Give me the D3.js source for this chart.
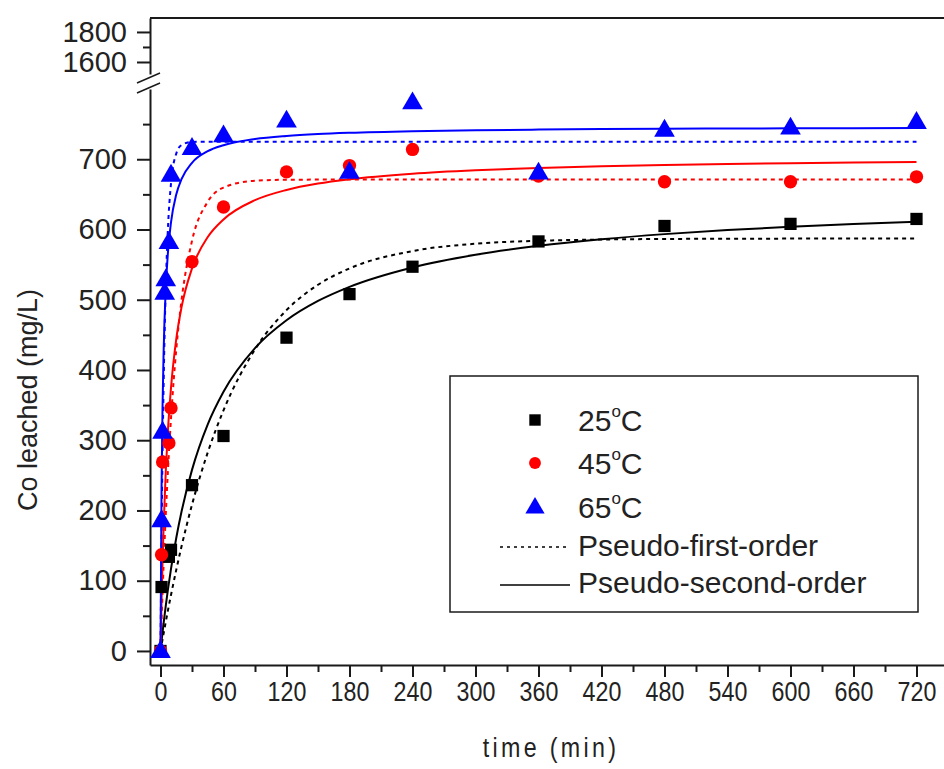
<!DOCTYPE html>
<html>
<head>
<meta charset="utf-8">
<script src="https://cdn.jsdelivr.net/npm/d3@7"></script>
<style>
  html, body { margin: 0; padding: 0; background: #fff; }
  svg { display: block; font-family: "Liberation Sans", Arial, sans-serif; }
</style>
</head>
<body>
<svg id="chart" width="944" height="769"></svg>
<script>
// ---- data ----
const t25  = [0, 1, 8, 10, 30, 60, 120, 180, 240, 360, 480, 600, 720];
const co25 = [0, 91, 134, 144, 236, 306, 446, 508, 547, 583, 605, 608, 615];
const t45  = [0, 1, 2, 8, 10, 30, 60, 120, 180, 240, 360, 480, 600, 720];
const co45 = [0, 137, 269, 296, 346, 554, 632, 682, 691, 714, 676, 668, 668, 675];
const t65  = [0, 1, 2, 4, 5, 8, 10, 30, 60, 120, 180, 240, 360, 480, 600, 720];
const co65 = [0, 186, 312, 510, 529, 582, 678, 716, 734, 755, 682, 781, 681, 742, 745, 753];

const tFit = [0, 1, 2, 3, 5, 7, 10, 15, 20, 30, 45, 60, 90, 120, 150, 180, 240, 300, 360, 420, 480, 540, 600, 660, 720];
const pfo25 = [0, 8.5, 16.9, 25.1, 41.3, 57.0, 79.7, 115.4, 148.6, 208.2, 282.6, 342.5, 429.2, 485.2, 521.3, 544.6, 569.3, 579.7, 583.9, 585.7, 586.5, 586.8, 587, 587, 587];
const pso25 = [0, 13.9, 27.3, 40.1, 64.2, 86.5, 116.8, 160.8, 198.1, 257.8, 322.7, 369.1, 431.2, 470.8, 498.3, 518.4, 546.0, 564.0, 576.7, 586.1, 593.4, 599.2, 603.9, 607.8, 611.1];
const pfo45 = [0, 44.1, 85.3, 123.8, 193.4, 254.3, 331.1, 429.1, 498.8, 583.8, 639.5, 659.7, 669.5, 670.8, 671, 671, 671, 671, 671, 671, 671, 671, 671, 671, 671];
const pso45 = [0, 71.8, 130.4, 179.0, 255.1, 312.0, 374.6, 443.9, 489.1, 544.6, 589.2, 614.3, 641.7, 656.3, 665.4, 671.6, 679.5, 684.4, 687.7, 690.0, 691.8, 693.2, 694.3, 695.2, 696.0];
const pfo65 = [0, 160.4, 285.3, 382.5, 517.3, 599.0, 665.5, 708.0, 720.1, 724.6, 725, 725, 725, 725, 725, 725, 725, 725, 725, 725, 725, 725, 725, 725, 725];
const pso65 = [0, 230.5, 352.2, 427.5, 515.7, 565.7, 610.1, 649.8, 671.6, 694.9, 711.4, 719.9, 728.7, 733.1, 735.8, 737.6, 739.9, 741.3, 742.2, 742.9, 743.4, 743.7, 744.0, 744.3, 744.5];

const xTicks = [0, 60, 120, 180, 240, 300, 360, 420, 480, 540, 600, 660, 720];
const xMinor = [30, 90, 150, 210, 270, 330, 390, 450, 510, 570, 630, 690];
const yTicksLow = [0, 100, 200, 300, 400, 500, 600, 700];
const yMinorLow = [50, 150, 250, 350, 450, 550, 650, 750];
const yTicksHigh = [1600, 1800];
const yMinorHigh = [1700];

const seriesNames = ["25°C", "45°C", "65°C"];
const colors = ["#000000", "#ff0000", "#0000ff"];

// ---- scales ----
const svg = d3.select("#chart");
const x = d3.scaleLinear().domain([-10, 750]).range([150, 948]);
const yLow = d3.scaleLinear().domain([-20, 800]).range([665, 89]);
const yHigh = d3.scaleLinear().domain([1520, 1893]).range([74, 18]);

const axisColor = "#1a1a1a";
const textColor = "#222";
const fmt = d3.format("d");

// ---- axes ----
function styleAxis(g) {
  g.selectAll("path.domain").attr("stroke", axisColor).attr("stroke-width", 2);
  g.selectAll(".tick line").attr("stroke", axisColor).attr("stroke-width", 2);
  g.selectAll("text").attr("fill", textColor);
}

// x axis
const gx = svg.append("g").attr("transform", "translate(0,665)")
  .call(d3.axisBottom(x).tickValues(xTicks).tickFormat(fmt).tickSize(12).tickPadding(4).tickSizeOuter(0));
gx.call(styleAxis);
gx.selectAll("text").attr("font-size", 28).attr("transform", "scale(0.83,1)");
svg.append("g").attr("transform", "translate(0,665)")
  .call(d3.axisBottom(x).tickValues(xMinor).tickSize(7).tickFormat("").tickSizeOuter(0))
  .call(styleAxis).select("path.domain").remove();

// y axis low
const gyl = svg.append("g").attr("transform", "translate(150,0)")
  .call(d3.axisLeft(yLow).tickValues(yTicksLow).tickFormat(fmt).tickSize(13).tickPadding(10).tickSizeOuter(0));
gyl.call(styleAxis);
gyl.selectAll("text").attr("font-size", 29);
svg.append("g").attr("transform", "translate(150,0)")
  .call(d3.axisLeft(yLow).tickValues(yMinorLow).tickSize(7).tickFormat("").tickSizeOuter(0))
  .call(styleAxis).select("path.domain").remove();

// y axis high
const gyh = svg.append("g").attr("transform", "translate(150,0)")
  .call(d3.axisLeft(yHigh).tickValues(yTicksHigh).tickFormat(fmt).tickSize(13).tickPadding(10).tickSizeOuter(0));
gyh.call(styleAxis);
gyh.selectAll("text").attr("font-size", 29);
svg.append("g").attr("transform", "translate(150,0)")
  .call(d3.axisLeft(yHigh).tickValues(yMinorHigh).tickSize(7).tickFormat("").tickSizeOuter(0))
  .call(styleAxis).select("path.domain").remove();

// top border
svg.append("line").attr("x1", x(-10)).attr("x2", x(750)).attr("y1", yHigh(1893)).attr("y2", yHigh(1893))
  .attr("stroke", axisColor).attr("stroke-width", 2);

// axis break marks
const bx = x(-10);
[0, 10].forEach(off => {
  svg.append("line")
    .attr("x1", bx - 13).attr("y1", yHigh(1520) + 9 + off)
    .attr("x2", bx + 10).attr("y2", yHigh(1520) - 1 + off)
    .attr("stroke", axisColor).attr("stroke-width", 1.5);
});

// axis titles
svg.append("text").attr("x", 551).attr("y", 757).attr("text-anchor", "middle")
  .attr("font-size", 28).attr("letter-spacing", 4).attr("fill", textColor)
  .attr("transform", "translate(551,0) scale(0.83,1) translate(-551,0)")
  .text("time (min)");
svg.append("text").attr("transform", "translate(37,400) rotate(-90)")
  .attr("text-anchor", "middle").attr("font-size", 27).attr("fill", textColor)
  .text("Co leached (mg/L)");

// ---- fitted curves ----
const lineGen = d3.line().x(d => x(d[0])).y(d => yLow(d[1])).curve(d3.curveMonotoneX);
const pfo = [pfo25, pfo45, pfo65];
const pso = [pso25, pso45, pso65];
const curves = svg.append("g").attr("fill", "none");
pfo.forEach((vals, i) => {
  curves.append("path").datum(tFit.map((t, j) => [t, vals[j]]))
    .attr("d", lineGen).attr("stroke", colors[i]).attr("stroke-width", 2)
    .attr("stroke-dasharray", "4,4");
});
pso.forEach((vals, i) => {
  curves.append("path").datum(tFit.map((t, j) => [t, vals[j]]))
    .attr("d", lineGen).attr("stroke", colors[i]).attr("stroke-width", 2);
});

// ---- markers ----
const symSquare = d3.symbol().type(d3.symbolSquare).size(150);
const symCircle = d3.symbol().type(d3.symbolCircle).size(140);
const symTri = d3.symbol().type(d3.symbolTriangle).size(185);
const symbols = [symSquare, symCircle, symTri];
const tAll = [t25, t45, t65];
const cAll = [co25, co45, co65];
[0, 1, 2].forEach(i => {
  svg.append("g").selectAll("path").data(tAll[i].map((t, j) => [t, cAll[i][j]]))
    .join("path")
    .attr("transform", d => `translate(${x(d[0])},${yLow(d[1]) + (i === 2 ? 1 : 0)})`)
    .attr("d", symbols[i]()).attr("fill", colors[i]);
});

// ---- legend ----
const lg = svg.append("g");
lg.append("rect").attr("x", 450).attr("y", 376).attr("width", 468).attr("height", 236)
  .attr("fill", "white").attr("stroke", axisColor).attr("stroke-width", 1.5);
const legY = [420, 463, 507];
[0, 1, 2].forEach(i => {
  lg.append("path").attr("transform", `translate(535,${legY[i] + (i === 2 ? 1 : 0)})`)
    .attr("d", symbols[i].size([130, 110, 160][i])()).attr("fill", colors[i]);
  const tx = lg.append("text").attr("x", 578).attr("y", legY[i] + 11)
    .attr("font-size", 30).attr("fill", textColor);
  tx.append("tspan").text(seriesNames[i].slice(0, 2));
  tx.append("tspan").attr("font-size", 17).attr("dy", -14).text("o");
  tx.append("tspan").attr("dy", 14).text("C");
});
lg.append("line").attr("x1", 500).attr("x2", 570).attr("y1", 547).attr("y2", 547)
  .attr("stroke", "#000").attr("stroke-width", 1.5).attr("stroke-dasharray", "3,4");
lg.append("text").attr("x", 578).attr("y", 556).attr("font-size", 30).attr("fill", textColor)
  .text("Pseudo-first-order");
lg.append("line").attr("x1", 500).attr("x2", 570).attr("y1", 585).attr("y2", 585)
  .attr("stroke", "#000").attr("stroke-width", 1.5);
lg.append("text").attr("x", 578).attr("y", 593).attr("font-size", 30).attr("fill", textColor)
  .text("Pseudo-second-order");
</script>
</body>
</html>
